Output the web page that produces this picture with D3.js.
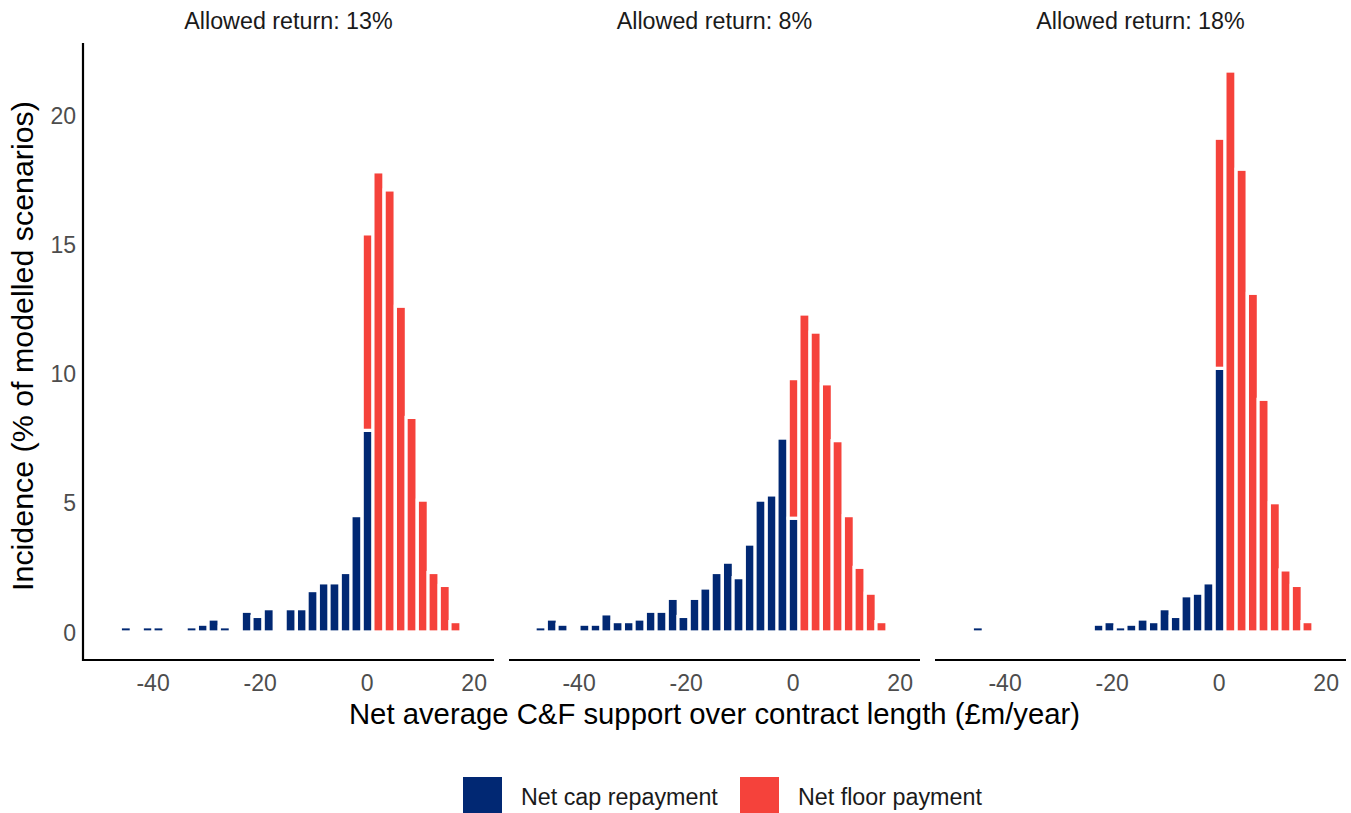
<!DOCTYPE html>
<html>
<head>
<meta charset="utf-8">
<script src="https://cdn.jsdelivr.net/npm/d3@7"></script>
<style>
  html, body { margin: 0; padding: 0; background: #ffffff; }
  svg { display: block; font-family: "Liberation Sans", Arial, sans-serif; }
</style>
</head>
<body>
<svg id="chart" width="1351" height="813"></svg>
<script>
// Facet titles
const panelTitles = ["Allowed return: 13%", "Allowed return: 8%", "Allowed return: 18%"];

// Histogram bin centres (£m/year) and bin width
const binCenters = [-47.1, -45.0, -43.0, -40.9, -38.9, -36.8, -34.8, -32.7, -30.6, -28.6,
                    -26.5, -24.5, -22.4, -20.4, -18.3, -16.3, -14.2, -12.1, -10.1, -8.0,
                    -6.0, -3.9, -1.9, 0.2, 2.2, 4.3, 6.4, 8.4, 10.5, 12.5, 14.6, 16.6];
const binWidth = 2.056;

// Incidence (% of modelled scenarios), one value per bin
const capRepay13 = [0, 0.2, 0, 0.2, 0.2, 0, 0, 0.2, 0.3, 0.5,
                    0.2, 0, 0.8, 0.6, 0.9, 0, 0.9, 0.9, 1.6, 1.9,
                    1.9, 2.3, 4.5, 7.8, 0, 0, 0, 0, 0, 0, 0, 0];
const floorPay13 = [0, 0, 0, 0, 0, 0, 0, 0, 0, 0,
                    0, 0, 0, 0, 0, 0, 0, 0, 0, 0,
                    0, 0, 0, 7.6, 17.8, 17.1, 12.6, 8.3, 5.1, 2.3, 1.8, 0.4];

const capRepay8 = [0.2, 0.5, 0.3, 0, 0.3, 0.3, 0.7, 0.4, 0.4, 0.5,
                   0.8, 0.8, 1.3, 0.6, 1.3, 1.7, 2.3, 2.7, 2.1, 3.4,
                   5.1, 5.3, 7.5, 4.4, 0, 0, 0, 0, 0, 0, 0, 0];
const floorPay8 = [0, 0, 0, 0, 0, 0, 0, 0, 0, 0,
                   0, 0, 0, 0, 0, 0, 0, 0, 0, 0,
                   0, 0, 0, 5.4, 12.3, 11.6, 9.6, 7.4, 4.5, 2.5, 1.5, 0.4];

const capRepay18 = [0, 0.2, 0, 0, 0, 0, 0, 0, 0, 0,
                    0, 0, 0.3, 0.4, 0.2, 0.3, 0.5, 0.4, 0.9, 0.6,
                    1.4, 1.5, 1.9, 10.2, 0, 0, 0, 0, 0, 0, 0, 0];
const floorPay18 = [0, 0, 0, 0, 0, 0, 0, 0, 0, 0,
                    0, 0, 0, 0, 0, 0, 0, 0, 0, 0,
                    0, 0, 0, 8.9, 21.7, 17.9, 13.1, 9.0, 5.0, 2.4, 1.8, 0.4];

const capSeries = [capRepay13, capRepay8, capRepay18];
const floorSeries = [floorPay13, floorPay8, floorPay18];

const xTicks = [-40, -20, 0, 20];
const yTicks = [0, 5, 10, 15, 20];
const legendLabels = ["Net cap repayment", "Net floor payment"];
const seriesColors = ["#012873", "#F5423B"];

const xTitle = "Net average C&F support over contract length (£m/year)";
const yTitle = "Incidence (% of modelled scenarios)";

// Layout
const svg = d3.select("#chart");
const panelLeft0 = 83, panelWidth = 411, panelStep = 426;
const plotTop = 43, plotBottom = 660;

const y = d3.scaleLinear().domain([-1.085, 22.785]).range([plotBottom, plotTop]);

panelTitles.forEach((title, p) => {
  const left = panelLeft0 + p * panelStep;
  const x = d3.scaleLinear().domain([-53.0, 23.8]).range([left, left + panelWidth]);
  const g = svg.append("g");

  const rows = binCenters.map((c, i) => ({
    c, cap: capSeries[p][i], floor: floorSeries[p][i]
  }));

  const bw = x(binWidth) - x(0);

  // cap repayment (bottom of the stack)
  g.selectAll("rect.cap").data(rows.filter(d => d.cap > 0)).join("rect")
    .attr("class", "cap")
    .attr("x", d => x(d.c) - bw / 2)
    .attr("width", bw)
    .attr("y", d => y(d.cap))
    .attr("height", d => y(0) - y(d.cap))
    .attr("fill", seriesColors[0])
    .attr("stroke", "#ffffff")
    .attr("stroke-width", 3.2);

  // floor payment (stacked on top)
  g.selectAll("rect.floor").data(rows.filter(d => d.floor > 0)).join("rect")
    .attr("class", "floor")
    .attr("x", d => x(d.c) - bw / 2)
    .attr("width", bw)
    .attr("y", d => y(d.cap + d.floor))
    .attr("height", d => y(d.cap) - y(d.cap + d.floor))
    .attr("fill", seriesColors[1])
    .attr("stroke", "#ffffff")
    .attr("stroke-width", 3.2);

  // x axis
  const xAxis = d3.axisBottom(x).tickValues(xTicks).tickSize(0).tickPadding(0)
    .tickFormat(d3.format("d"));
  const ax = g.append("g").attr("transform", `translate(0,${plotBottom})`).call(xAxis);
  ax.select(".domain").remove();
  ax.selectAll("text")
    .attr("dy", null).attr("y", 31)
    .attr("fill", "#4D4D4D")
    .style("font-size", "23px")
    .text(d => d < 0 ? "-" + Math.abs(d) : d);
  g.append("line")
    .attr("x1", left).attr("x2", left + panelWidth)
    .attr("y1", plotBottom).attr("y2", plotBottom)
    .attr("stroke", "#000").attr("stroke-width", 2.2);

  // facet title
  g.append("text")
    .attr("x", left + panelWidth / 2).attr("y", 29)
    .attr("text-anchor", "middle")
    .attr("fill", "#1A1A1A")
    .style("font-size", "23.3px")
    .text(title);
});

// y axis (left panel only)
const yAxis = d3.axisLeft(y).tickValues(yTicks).tickSize(0).tickPadding(0);
const ay = svg.append("g").attr("transform", `translate(${panelLeft0},0)`).call(yAxis);
ay.select(".domain").remove();
ay.selectAll("text")
  .attr("x", -7).attr("dy", "0.35em")
  .attr("fill", "#4D4D4D")
  .style("font-size", "23px");
svg.append("line")
  .attr("x1", panelLeft0).attr("x2", panelLeft0)
  .attr("y1", plotTop).attr("y2", plotBottom + 1.1)
  .attr("stroke", "#000").attr("stroke-width", 2.2);

// axis titles
svg.append("text")
  .attr("x", panelLeft0 + (2 * panelStep + panelWidth) / 2).attr("y", 724)
  .attr("text-anchor", "middle")
  .attr("fill", "#000")
  .style("font-size", "29.3px")
  .text(xTitle);

svg.append("text")
  .attr("transform", `translate(33,346) rotate(-90)`)
  .attr("text-anchor", "middle")
  .attr("fill", "#000")
  .style("font-size", "30.4px")
  .text(yTitle);

// legend
const legendX = [463, 740];
legendLabels.forEach((lab, i) => {
  svg.append("rect")
    .attr("x", legendX[i]).attr("y", 777)
    .attr("width", 39).attr("height", 40)
    .attr("fill", seriesColors[i]);
  svg.append("text")
    .attr("x", legendX[i] + 58).attr("y", 805)
    .attr("fill", "#1A1A1A")
    .style("font-size", "23.3px")
    .text(lab);
});
</script>
</body>
</html>
